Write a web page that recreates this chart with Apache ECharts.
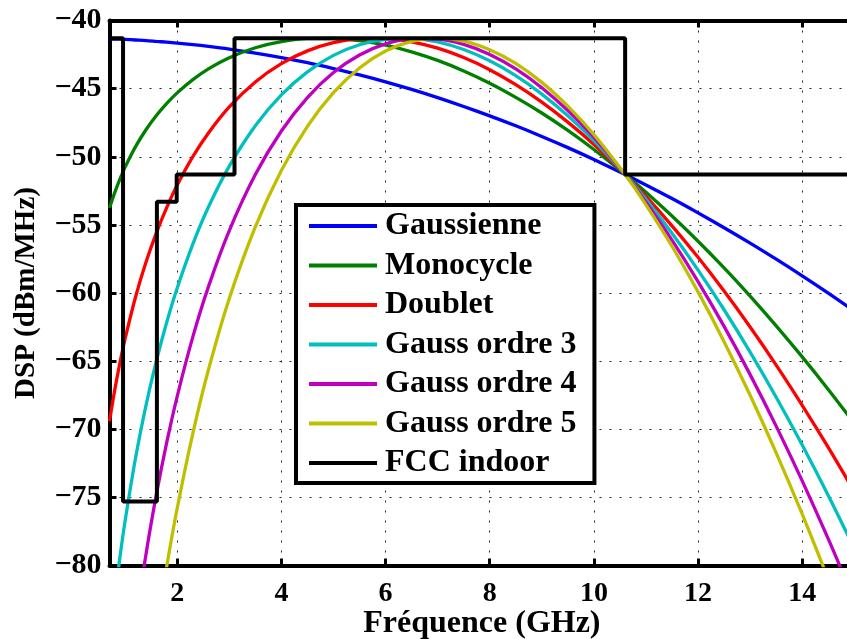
<!DOCTYPE html>
<html>
<head>
<meta charset="utf-8">
<script src="https://cdn.jsdelivr.net/npm/echarts@6/dist/echarts.min.js"></script>
<style>
  html, body { margin: 0; padding: 0; background: #fff; }
  #chart { width: 847px; height: 639px; }
</style>
</head>
<body>
<div id="chart"></div>
<script>
// Frequency samples (GHz)
const freq = [0.7, 0.8, 0.9, 1.0, 1.2, 1.4, 1.6, 1.8, 2.0, 2.3, 2.6, 3.0, 3.5, 4.0, 4.5, 5.0, 5.5, 6.0, 6.5, 7.0,
              7.5, 8.0, 8.5, 9.0, 9.5, 10.0, 10.6, 11.0, 11.5, 12.0, 12.5, 13.0, 13.5, 14.0, 14.5, 15.0];

// Power spectral density of each pulse shape (dBm/MHz)
const gaussienne = [-41.34, -41.36, -41.37, -41.39, -41.43, -41.47, -41.53, -41.59, -41.66, -41.77, -41.90, -42.10,
                    -42.39, -42.72, -43.10, -43.53, -43.99, -44.50, -45.06, -45.66, -46.31, -47.00, -47.73, -48.51,
                    -49.33, -50.20, -51.30, -52.07, -53.07, -54.12, -55.21, -56.34, -57.52, -58.74, -60.01, -61.33];
const monocycle = [-53.76, -52.63, -51.64, -50.76, -49.26, -48.02, -46.97, -46.08, -45.31, -44.34, -43.55, -42.73,
                   -42.00, -41.55, -41.33, -41.32, -41.48, -41.81, -42.30, -42.93, -43.70, -44.60, -45.64, -46.79,
                   -48.07, -49.47, -51.30, -52.61, -54.35, -56.20, -58.16, -60.23, -62.41, -64.69, -67.08, -69.57];
const doublet = [-69.41, -67.13, -65.13, -63.35, -60.29, -57.75, -55.59, -53.72, -52.08, -49.99, -48.25, -46.34,
                 -44.51, -43.17, -42.23, -41.63, -41.34, -41.33, -41.56, -42.03, -42.72, -43.61, -44.71, -45.99,
                 -47.46, -49.10, -51.31, -52.91, -55.07, -57.38, -59.86, -62.50, -65.29, -68.24, -71.33, -74.58];
const gaussOrdre3 = [-85.85, -82.42, -79.40, -76.72, -72.11, -68.26, -64.98, -62.13, -59.63, -56.41, -53.69, -50.69,
                     -47.72, -45.46, -43.77, -42.56, -41.78, -41.38, -41.32, -41.57, -42.13, -42.96, -44.05, -45.40,
                     -46.99, -48.81, -51.30, -53.13, -55.62, -58.32, -61.23, -64.34, -67.65, -71.16, -74.86, -78.76];
const gaussOrdre4 = [null, null, null, -90.51, -84.35, -79.19, -74.78, -70.95, -67.58, -63.22, -59.53, -55.42,
                     -51.31, -48.11, -45.66, -43.82, -42.53, -41.72, -41.34, -41.36, -41.75, -42.49, -43.55, -44.93,
                     -46.61, -48.57, -51.30, -53.34, -56.12, -59.16, -62.45, -65.99, -69.77, -73.79, -78.05, -82.55];
const gaussOrdre5 = [null, null, null, null, null, null, -84.85, -80.04, -75.80, -70.30, -65.63, -60.40,
                     -55.15, -51.01, -47.77, -45.30, -43.48, -42.24, -41.53, -41.30, -41.51, -42.14, -43.15, -44.54,
                     -46.29, -48.37, -51.31, -53.53, -56.57, -59.92, -63.57, -67.51, -71.73, -76.23, -81.01, null];

// FCC indoor emission mask (breakpoints)
const fccFreq  = [0.7, 0.96, 0.96, 1.61, 1.61, 1.99, 1.99, 3.1, 3.1, 10.6, 10.6, 15];
const fccLevel = [-41.3, -41.3, -75.3, -75.3, -53.3, -53.3, -51.3, -51.3, -41.3, -41.3, -51.3, -51.3];

// Axis ticks
const xTicks = [2, 4, 6, 8, 10, 12, 14];
const seriesNames = ['Gaussienne', 'Monocycle', 'Doublet', 'Gauss ordre 3', 'Gauss ordre 4', 'Gauss ordre 5', 'FCC indoor'];
const seriesColors = ['#0000ff', '#008000', '#ff0000', '#00bfbf', '#bf00bf', '#bfbf00', '#000000'];

const FONT = "'Liberation Serif', 'Times New Roman', serif";

const curves = [gaussienne, monocycle, doublet, gaussOrdre3, gaussOrdre4, gaussOrdre5];
const pair = (xs, ys) => xs.map((x, i) => [x, ys[i]]);

const series = curves.map((vals, k) => ({
  name: seriesNames[k],
  type: 'line',
  data: pair(freq, vals),
  smooth: 0.3,
  showSymbol: false,
  clip: true,
  lineStyle: { color: seriesColors[k], width: 3.3 },
  itemStyle: { color: seriesColors[k] },
  z: 3 + k
}));
series.push({
  name: seriesNames[6],
  type: 'line',
  data: pair(fccFreq, fccLevel),
  showSymbol: false,
  clip: true,
  lineStyle: { color: '#000', width: 4 },
  itemStyle: { color: '#000' },
  z: 10
});

const gridDots = { color: '#222', width: 1, type: [2, 8] };

const option = {
  animation: false,
  backgroundColor: '#fff',
  grid: {
    left: 109.5, top: 20.5, right: -7.3, bottom: 639 - 565.5,
    containLabel: false, outerBoundsMode: 'none'
  },
  xAxis: [
    {
      type: 'value', min: 0.7, max: 15, position: 'bottom',
      axisLine: { show: true, onZero: false, lineStyle: { color: '#000', width: 4 } },
      axisTick: { show: true, inside: true, length: 7, customValues: xTicks, lineStyle: { color: '#000', width: 3 } },
      axisLabel: { customValues: xTicks, margin: 14, fontFamily: FONT, fontWeight: 'bold', fontSize: 28, color: '#000' },
      splitLine: { show: true, lineStyle: gridDots },
      name: 'Fréquence (GHz)', nameLocation: 'middle', nameGap: 42, nameMoveOverlap: false,
      nameTextStyle: { fontFamily: FONT, fontWeight: 'bold', fontSize: 32, color: '#000' }
    },
    {
      type: 'value', min: 0.7, max: 15, position: 'top',
      axisLine: { show: true, onZero: false, lineStyle: { color: '#000', width: 4 } },
      axisTick: { show: true, inside: true, length: 7, customValues: xTicks, lineStyle: { color: '#000', width: 3 } },
      axisLabel: { show: false },
      splitLine: { show: false }
    }
  ],
  yAxis: {
    type: 'value', min: -80, max: -40, interval: 5,
    axisLine: { show: true, onZero: false, lineStyle: { color: '#000', width: 4 } },
    axisTick: { show: true, inside: true, length: 7, lineStyle: { color: '#000', width: 3 } },
    axisLabel: {
      margin: 8, fontFamily: FONT, fontWeight: 'bold', fontSize: 30, color: '#000',
      formatter: v => String(v).replace('-', '\u2212')
    },
    splitLine: { show: true, lineStyle: gridDots },
    name: 'DSP (dBm/MHz)', nameLocation: 'middle', nameGap: 68, nameMoveOverlap: false,
    nameTextStyle: { fontFamily: FONT, fontWeight: 'bold', fontSize: 29, color: '#000' }
  },
  legend: {
    data: seriesNames,
    orient: 'vertical',
    left: 296, top: 205,
    padding: [5, 18, 4, 13],
    itemWidth: 68, itemHeight: 4, itemGap: 7.5,
    icon: 'rect',
    backgroundColor: '#fff',
    borderColor: '#000', borderWidth: 4, borderRadius: 0,
    textStyle: { fontFamily: FONT, fontWeight: 'bold', fontSize: 32, color: '#000', padding: [0, 0, 0, 3] }
  },
  series: series
};

echarts.init(document.getElementById('chart'), null, { renderer: 'canvas' }).setOption(option);
</script>
</body>
</html>
